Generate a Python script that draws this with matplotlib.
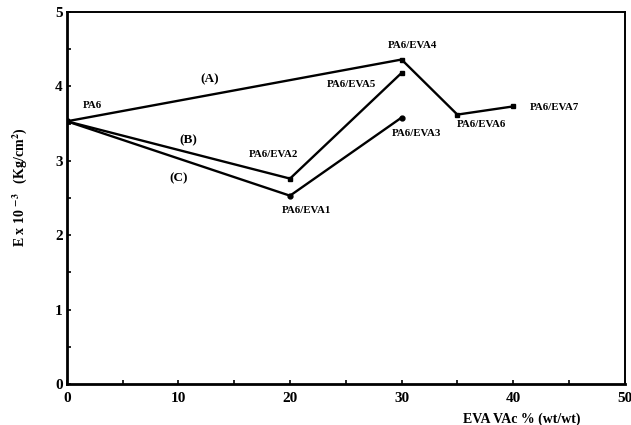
import matplotlib
matplotlib.use("Agg")
import matplotlib.pyplot as plt
from matplotlib.ticker import MultipleLocator

plt.rcParams['font.family'] = ['Liberation Serif', 'DejaVu Serif']
plt.rcParams['font.weight'] = 'bold'
plt.rcParams['mathtext.fontset'] = 'stix'

# Data
x_A = [0, 30, 35, 40]
y_A = [3.53, 4.36, 3.62, 3.73]
x_B = [0, 20, 30]
y_B = [3.53, 2.76, 4.18]
x_C = [0, 20, 30]
y_C = [3.53, 2.53, 3.58]

point_labels = ["PA6", "PA6/EVA1", "PA6/EVA2", "PA6/EVA3", "PA6/EVA4",
                "PA6/EVA5", "PA6/EVA6", "PA6/EVA7"]
label_pos = [(2.3, 3.74), (21.5, 2.33), (18.5, 3.08), (31.3, 3.37),
             (31.0, 4.55), (25.5, 4.02), (37.2, 3.49), (43.7, 3.72)]
curve_labels = ["(A)", "(B)", "(C)"]
curve_pos = [(12.8, 4.09), (10.9, 3.28), (10.0, 2.77)]

fig = plt.figure(figsize=(6.31, 4.25), dpi=100)
ax = fig.add_axes([0.106, 0.0965, 0.884, 0.8755])

ax.plot(x_A, y_A, color='black', lw=1.7, marker='s', ms=3.5)
ax.plot(x_B, y_B, color='black', lw=1.7, marker='s', ms=3.5)
ax.plot(x_C, y_C, color='black', lw=1.7, marker='o', ms=3.5)

for t, (px, py) in zip(point_labels, label_pos):
    ax.text(px, py, t, fontsize=7.8, fontweight='bold', ha='center', va='center')
for t, (px, py) in zip(curve_labels, curve_pos):
    ax.text(px, py, t, fontsize=9.5, fontweight='bold', ha='center', va='center')

ax.set_xlim(0, 50)
ax.set_ylim(0, 5)
ax.xaxis.set_major_locator(MultipleLocator(10))
ax.xaxis.set_minor_locator(MultipleLocator(5))
ax.yaxis.set_major_locator(MultipleLocator(1))
ax.yaxis.set_minor_locator(MultipleLocator(0.5))
ax.tick_params(which='both', direction='in', length=3, width=1.2)
ax.tick_params(axis='x', which='major', labelsize=11, pad=6)
ax.tick_params(axis='y', which='major', labelsize=11, pad=3)
for lab in ax.get_xticklabels() + ax.get_yticklabels():
    lab.set_fontweight('bold')

for s in ['left', 'bottom']:
    ax.spines[s].set_linewidth(2)
for s in ['top', 'right']:
    ax.spines[s].set_linewidth(1.4)

ax.set_xlabel("EVA VAc % (wt/wt)", fontsize=10, fontweight='bold')
ax.xaxis.set_label_coords(0.816, -0.078)
ax.set_ylabel(r"E x 10 $^{\mathbf{-3}}$   (Kg/cm$^{\mathbf{2}}$)", fontsize=10, fontweight='bold')
ax.yaxis.set_label_coords(-0.068, 0.53)

fig.savefig("out.png", dpi=100)
